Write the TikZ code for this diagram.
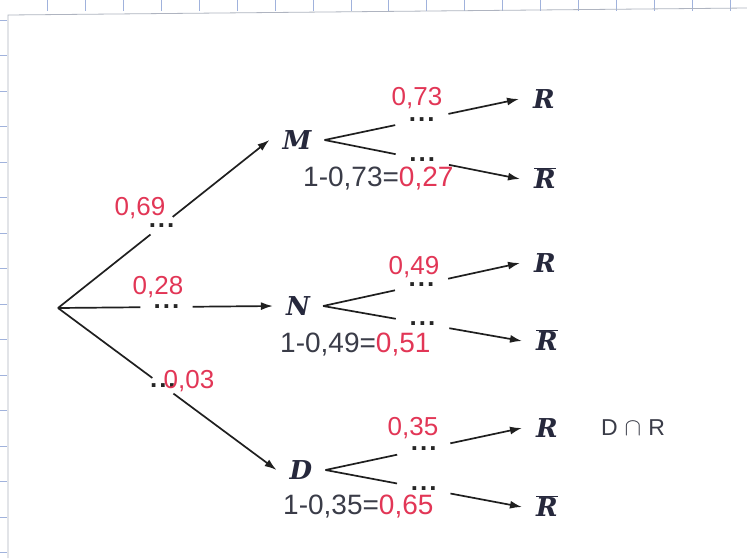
\documentclass[tikz,border=0pt]{standalone}
\usepackage{fontspec}
\setmainfont{Liberation Serif}
\newfontfamily\handfont{Liberation Sans}
\newfontfamily\eventfont{DejaVu Serif}
\usetikzlibrary{arrows.meta}
\definecolor{ink}{RGB}{38,40,60}
\definecolor{pencil}{RGB}{58,60,72}
\definecolor{redpen}{RGB}{226,54,86}
\definecolor{gridblue}{RGB}{160,178,220}
\definecolor{sheetedge}{RGB}{175,180,192}
\newcommand\gapdots{.\kern2pt.\kern2pt.}
\newcommand\rbar{$\overline{\hbox{R}}$}

\begin{document}
\begin{tikzpicture}[x=1pt, y=-1pt,
  event/.style={font=\fontsize{26}{28}\selectfont\eventfont\bfseries\itshape, text=ink, inner xsep=13pt, inner ysep=2pt, text height=19pt, text depth=0pt},
  leaf/.style={event, inner xsep=14pt},
  blank/.style={circle, inner sep=0pt, minimum size=#1, font=\fontsize{26}{28}\selectfont\handfont\bfseries, text=black!85},
  blank/.default=54pt,
  prob/.style={font=\fontsize{26}{28}\selectfont\handfont, text=redpen, inner sep=0pt, anchor=base},
  calcnote/.style={font=\fontsize{28}{30}\selectfont\handfont, text=pencil, inner sep=0pt, anchor=base west},
  branch/.style={line width=1.7pt, draw=black!88},
  arr/.style={branch, -{Latex[length=12pt,width=8pt]}}]
  \useasboundingbox (0,0) rectangle (747,558);

  % sheet on squared paper
  \fill[white] (0,0) rectangle (747,558);
  \foreach \x in {0,...,18}
    \draw[gridblue, line width=0.6pt] ({47.6+37.9*\x},0) -- ({47.6+37.9*\x},11);
  \foreach \y in {0,...,15}
    \draw[gridblue, line width=0.6pt] (0,{20+35.5*\y}) -- (7,{20+35.5*\y});
  \draw[sheetedge, line width=0.8pt] (8,558) -- (8,15) -- (747,8);

  % first level
  \coordinate (root) at (58,308);
  \node[event] (M) at (297,140) {M};
  \node[event] (N) at (298,306) {N};
  \node[event] (D) at (301,470) {D};

  \path (root) -- node[blank=28pt, pos=0.49] (bM) {\gapdots} (M.west);
  \path (root) -- node[blank=52pt, pos=0.505] (bN) {\gapdots} (N.west);
  \path (root) -- node[blank=24pt, pos=0.48] (bD) {\gapdots} (D.west);
  \draw[branch] (root) -- (bM);
  \draw[arr] (bM) -- (M.west);
  \draw[branch] (root) -- (bN);
  \draw[arr] (bN) -- (N.west);
  \draw[branch] (root) -- (bD);
  \draw[arr] (bD) -- (D.west);

  \node[prob] (pM) at (140,215) {0,69};
  \node[prob] (pN) at (158,294) {0,28};
  \node[prob] (pD) at (189,388) {0,03};

  % second level
  \node[leaf] (MR) at (544,99) {R};
  \node[leaf] (MRb) at (545,179) {\rbar};
  \node[leaf] (NR) at (545,263) {R};
  \node[leaf] (NRb) at (547,341) {\rbar};
  \node[leaf] (DR) at (547,428) {R};
  \node[leaf] (DRb) at (547,507) {\rbar};

  \path (M.east) -- node[blank, pos=0.5] (bMR) {\gapdots} (MR.west);
  \path (M.east) -- node[blank, pos=0.5] (bMRb) {\gapdots} (MRb.west);
  \path (N.east) -- node[blank, pos=0.5] (bNR) {\gapdots} (NR.west);
  \path (N.east) -- node[blank, pos=0.5] (bNRb) {\gapdots} (NRb.west);
  \path (D.east) -- node[blank, pos=0.5] (bDR) {\gapdots} (DR.west);
  \path (D.east) -- node[blank, pos=0.5] (bDRb) {\gapdots} (DRb.west);

  \draw[branch] (M.east) -- (bMR);
  \draw[arr] (bMR) -- (MR.west);
  \draw[branch] (M.east) -- (bMRb);
  \draw[arr] (bMRb) -- (MRb.west);
  \draw[branch] (N.east) -- (bNR);
  \draw[arr] (bNR) -- (NR.west);
  \draw[branch] (N.east) -- (bNRb);
  \draw[arr] (bNRb) -- (NRb.west);
  \draw[branch] (D.east) -- (bDR);
  \draw[arr] (bDR) -- (DR.west);
  \draw[branch] (D.east) -- (bDRb);
  \draw[arr] (bDRb) -- (DRb.west);

  \node[prob] (pMR) at (417,105) {0,73};
  \node[calcnote] (cMRb) at (303,186) {1-0,73=\textcolor{redpen}{0,27}};
  \node[prob] (pNR) at (414,274) {0,49};
  \node[calcnote] (cNRb) at (280,352) {1-0,49=\textcolor{redpen}{0,51}};
  \node[prob] (pDR) at (413,435) {0,35};
  \node[calcnote] (cDRb) at (283,514) {1-0,35=\textcolor{redpen}{0,65}};

  \node[calcnote, font=\fontsize{23}{25}\selectfont\handfont, anchor=base] (inter) at (633,435) {D\hspace{7pt}$\cap$\hspace{7pt}R};
\end{tikzpicture}
\end{document}
